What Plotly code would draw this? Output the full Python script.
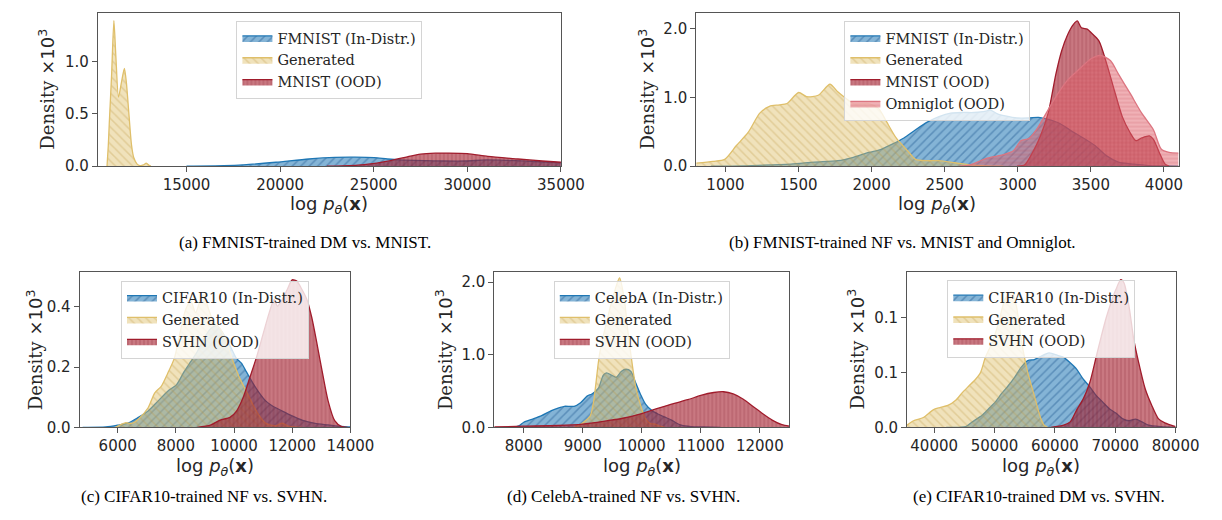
import plotly.graph_objects as go

W, H = 1222, 520

# ---------------- data ----------------
# (a) FMNIST-trained DM vs. MNIST
a_in_x = [15000, 17000, 18050, 19780, 21530, 22930, 24000, 25020, 25730, 26400, 27750, 28700, 29900, 31000, 32200, 33600, 35000]
a_in_y = [0, 0.005, 0.013, 0.038, 0.069, 0.084, 0.086, 0.082, 0.069, 0.060, 0.053, 0.050, 0.050, 0.060, 0.055, 0.045, 0.032]
a_gen_x = [10754, 10823, 10875, 11001, 11121, 11226, 11368, 11525, 11682, 11787, 11923, 12065, 12185, 12363, 12536, 12700, 12851, 13000, 13100]
a_gen_y = [0, 0.20, 0.41, 0.88, 1.39, 1.05, 0.66, 0.80, 0.934, 0.80, 0.50, 0.20, 0.08, 0.02, 0.005, 0.012, 0.03, 0.008, 0]
a_ood_x = [22500, 23300, 24500, 25900, 26800, 27500, 28300, 29000, 30000, 31100, 32700, 34000, 35000]
a_ood_y = [0, 0.003, 0.015, 0.053, 0.090, 0.115, 0.124, 0.125, 0.120, 0.094, 0.069, 0.050, 0.038]

# (b) FMNIST-trained NF vs. MNIST and Omniglot
b_in_x = [900, 1181, 1448, 1608, 1768, 1875, 1981, 2061, 2141, 2221, 2301, 2381, 2461, 2541, 2621, 2701, 2781, 2808, 2861, 2915, 2995, 3075, 3141, 3208, 3288, 3368, 3448, 3528, 3608, 3688, 3795, 3901, 4008, 4100]
b_in_y = [0, 0.01, 0.03, 0.06, 0.08, 0.13, 0.20, 0.24, 0.32, 0.41, 0.53, 0.64, 0.72, 0.77, 0.78, 0.78, 0.80, 0.82, 0.76, 0.73, 0.70, 0.70, 0.71, 0.68, 0.62, 0.51, 0.41, 0.30, 0.15, 0.06, 0.03, 0.01, 0.005, 0]
b_gen_x = [800, 915, 995, 1075, 1155, 1235, 1301, 1368, 1421, 1501, 1555, 1635, 1715, 1768, 1821, 1875, 1981, 2048, 2101, 2168, 2248, 2301, 2381, 2461, 2568, 2675, 2781, 2900]
b_gen_y = [0.045, 0.07, 0.10, 0.30, 0.49, 0.77, 0.87, 0.89, 0.91, 1.07, 1.01, 1.03, 1.19, 1.08, 0.99, 0.91, 0.91, 0.84, 0.65, 0.41, 0.22, 0.10, 0.08, 0.08, 0.05, 0.02, 0.005, 0]
b_ood1_x = [2995, 3048, 3101, 3155, 3208, 3261, 3301, 3341, 3381, 3408, 3435, 3475, 3501, 3555, 3608, 3661, 3715, 3768, 3808, 3848, 3901, 3928, 3968, 4008, 4035]
b_ood1_y = [0, 0.02, 0.20, 0.44, 0.77, 1.34, 1.68, 1.91, 2.06, 2.11, 2.01, 1.99, 1.94, 1.82, 1.49, 1.10, 0.72, 0.49, 0.37, 0.41, 0.44, 0.39, 0.20, 0.03, 0]
b_ood2_x = [2600, 2675, 2781, 2888, 2968, 3021, 3075, 3128, 3181, 3261, 3341, 3421, 3501, 3565, 3635, 3688, 3768, 3848, 3928, 3981, 4035, 4100]
b_ood2_y = [0, 0.02, 0.11, 0.16, 0.22, 0.37, 0.40, 0.53, 0.72, 1.01, 1.25, 1.41, 1.56, 1.61, 1.53, 1.34, 1.06, 0.77, 0.53, 0.25, 0.20, 0.19]

# (c) CIFAR10-trained NF vs. SVHN
c_in_x = [4796, 5584, 6000, 6371, 6709, 7046, 7384, 7721, 8025, 8284, 8509, 8734, 8959, 9184, 9409, 9634, 9859, 10084, 10253, 10421, 10646, 10871, 11096, 11321, 11659, 11996, 12334, 12784, 13234, 13684, 14000]
c_in_y = [0, 0.001, 0.007, 0.015, 0.033, 0.054, 0.087, 0.120, 0.142, 0.185, 0.218, 0.251, 0.294, 0.327, 0.338, 0.310, 0.272, 0.229, 0.213, 0.185, 0.147, 0.114, 0.087, 0.071, 0.054, 0.038, 0.024, 0.013, 0.008, 0.003, 0.001]
c_gen_x = [5921, 6259, 6484, 6709, 7046, 7271, 7496, 7721, 7946, 8171, 8340, 8509, 8678, 8846, 8959, 9127, 9296, 9521, 9746, 9971, 10196, 10421, 10646, 10871, 11096, 11434, 11659, 11884, 12334]
c_gen_y = [0, 0.015, 0.013, 0.027, 0.065, 0.114, 0.136, 0.180, 0.229, 0.327, 0.392, 0.420, 0.381, 0.425, 0.441, 0.392, 0.349, 0.327, 0.283, 0.218, 0.163, 0.120, 0.076, 0.038, 0.013, 0.005, 0.014, 0.003, 0]
c_ood_x = [8734, 9184, 9521, 9859, 10084, 10309, 10534, 10759, 10984, 11209, 11378, 11490, 11659, 11828, 11996, 12165, 12334, 12503, 12671, 12840, 13009, 13234, 13459, 13684, 13909]
c_ood_y = [0, 0.007, 0.024, 0.033, 0.054, 0.098, 0.163, 0.229, 0.305, 0.381, 0.425, 0.403, 0.425, 0.458, 0.490, 0.485, 0.458, 0.425, 0.365, 0.283, 0.196, 0.087, 0.022, 0.003, 0]

# (d) CelebA-trained NF vs. SVHN
d_in_x = [7807, 7917, 8000, 8138, 8303, 8468, 8605, 8688, 8853, 8963, 9073, 9155, 9265, 9348, 9403, 9485, 9568, 9651, 9733, 9816, 9898, 9981, 10063, 10173, 10283, 10393, 10503, 10586, 10668, 10834, 11053, 11329]
d_in_y = [0, 0.02, 0.07, 0.11, 0.16, 0.23, 0.27, 0.29, 0.29, 0.34, 0.43, 0.46, 0.54, 0.72, 0.75, 0.72, 0.69, 0.77, 0.80, 0.77, 0.61, 0.45, 0.32, 0.23, 0.18, 0.14, 0.10, 0.06, 0.03, 0.01, 0.005, 0]
d_gen_x = [8853, 8963, 9045, 9128, 9183, 9282, 9403, 9513, 9623, 9706, 9760, 9816, 9898, 9981, 10063, 10146, 10228, 10311, 10393]
d_gen_y = [0, 0.04, 0.09, 0.16, 0.35, 1.00, 1.45, 1.80, 2.06, 1.75, 1.35, 1.00, 0.55, 0.30, 0.12, 0.05, 0.045, 0.015, 0]
d_ood_x = [7500, 8000, 8578, 9000, 9403, 9678, 10000, 10228, 10503, 10778, 11000, 11219, 11384, 11549, 11714, 11879, 12044, 12209, 12374, 12500]
d_ood_y = [0.005, 0.015, 0.025, 0.045, 0.09, 0.125, 0.19, 0.25, 0.32, 0.38, 0.44, 0.48, 0.49, 0.46, 0.39, 0.29, 0.19, 0.10, 0.036, 0.015]

# (e) CIFAR10-trained DM vs. SVHN
e_in_x = [42000, 44162, 45243, 46324, 47946, 49027, 50108, 51189, 52270, 53351, 54432, 55514, 56595, 57676, 59027, 60378, 61459, 62541, 63622, 64703, 65784, 66865, 67946, 69027, 70108, 71189, 72270, 73351, 74432, 75514, 77676, 79838]
e_in_y = [0, 0, 0.0006, 0.005, 0.011, 0.017, 0.023, 0.031, 0.038, 0.046, 0.055, 0.061, 0.062, 0.065, 0.068, 0.066, 0.064, 0.059, 0.053, 0.044, 0.037, 0.029, 0.023, 0.017, 0.013, 0.008, 0.006, 0.0075, 0.005, 0.002, 0.0006, 0]
e_gen_x = [35514, 36595, 38216, 39838, 40919, 42270, 43622, 44703, 45784, 46865, 47676, 48486, 49568, 50649, 51730, 52811, 53622, 54433, 55514, 56595, 57676, 58216, 58757]
e_gen_y = [0.002, 0.006, 0.009, 0.016, 0.018, 0.020, 0.025, 0.032, 0.038, 0.044, 0.050, 0.064, 0.077, 0.095, 0.117, 0.124, 0.111, 0.080, 0.050, 0.029, 0.008, 0.002, 0]
e_ood_x = [59297, 61459, 62541, 63622, 64703, 65784, 66865, 67676, 68486, 69297, 70108, 70919, 71459, 72270, 73081, 73892, 74973, 76054, 77135, 78216, 80000]
e_ood_y = [0, 0.002, 0.005, 0.016, 0.026, 0.041, 0.065, 0.083, 0.100, 0.114, 0.126, 0.135, 0.132, 0.111, 0.080, 0.059, 0.035, 0.020, 0.008, 0.004, 0.0006]

# tick values / labels
a_xticks = [15000, 20000, 25000, 30000, 35000]
a_yticks = [0, 0.5, 1.0]
a_ylabels = ["0.0", "0.5", "1.0"]
b_xticks = [1000, 1500, 2000, 2500, 3000, 3500, 4000]
b_yticks = [0, 1.0, 2.0]
b_ylabels = ["0.0", "1.0", "2.0"]
c_xticks = [6000, 8000, 10000, 12000, 14000]
c_yticks = [0, 0.2, 0.4]
c_ylabels = ["0.0", "0.2", "0.4"]
d_xticks = [8000, 9000, 10000, 11000, 12000]
d_yticks = [0, 1.0, 2.0]
d_ylabels = ["0.0", "1.0", "2.0"]
e_xticks = [40000, 50000, 60000, 70000, 80000]
e_yticks = [0, 0.05, 0.10]
e_ylabels = ["0.0", "0.1", "0.1"]

captions = [
    "(a) FMNIST-trained DM vs. MNIST.",
    "(b) FMNIST-trained NF vs. MNIST and Omniglot.",
    "(c) CIFAR10-trained NF vs. SVHN.",
    "(d) CelebA-trained NF vs. SVHN.",
    "(e) CIFAR10-trained DM vs. SVHN.",
]

# ---------------- styles ----------------
STY = {
    "in":   dict(line="#1f77b4", fill="rgba(31,119,180,0.55)", hatch="rgba(10,70,130,0.35)", shape="/", size=6),
    "gen":  dict(line="#dfbf6a", fill="rgba(222,190,105,0.45)", hatch="rgba(185,145,55,0.28)", shape="\\", size=6),
    "ood":  dict(line="#a01c2c", fill="rgba(165,30,45,0.6)", hatch="rgba(110,10,25,0.28)", shape="|", size=4),
    "ood2": dict(line="#dc7580", fill="rgba(225,100,110,0.5)", hatch="rgba(190,60,75,0.28)", shape="-", size=4),
}

# panel geometry in pixels: x0, x1, ytop, ybottom
panels = [
    dict(x=(91.7, 564), y=(4.7, 161), xr=[10267, 35000], yr=[0, 1.466]),
    dict(x=(702, 1194), y=(4.7, 161), xr=[800, 4100], yr=[0, 2.23]),
    dict(x=(73, 349.3), y=(269, 426.7), xr=[4690, 14000], yr=[0, 0.515]),
    dict(x=(496, 797), y=(269, 426.7), xr=[7500, 12500], yr=[0, 2.136]),
    dict(x=(917, 1191), y=(268.5, 426.7), xr=[35500, 80000], yr=[0, 0.1422]),
]
ylab_x = [40, 652, 27, 445, 865]
cap_pos = [(303, 239), (912, 239), (200, 497), (628, 497), (1052, 497)]
xlab_y = [200, 200, 467, 467, 467]

series = [
    [("FMNIST (In-Distr.)", a_in_x, a_in_y, "in"), ("Generated", a_gen_x, a_gen_y, "gen"), ("MNIST (OOD)", a_ood_x, a_ood_y, "ood")],
    [("FMNIST (In-Distr.)", b_in_x, b_in_y, "in"), ("Generated", b_gen_x, b_gen_y, "gen"), ("MNIST (OOD)", b_ood1_x, b_ood1_y, "ood"), ("Omniglot (OOD)", b_ood2_x, b_ood2_y, "ood2")],
    [("CIFAR10 (In-Distr.)", c_in_x, c_in_y, "in"), ("Generated", c_gen_x, c_gen_y, "gen"), ("SVHN (OOD)", c_ood_x, c_ood_y, "ood")],
    [("CelebA (In-Distr.)", d_in_x, d_in_y, "in"), ("Generated", d_gen_x, d_gen_y, "gen"), ("SVHN (OOD)", d_ood_x, d_ood_y, "ood")],
    [("CIFAR10 (In-Distr.)", e_in_x, e_in_y, "in"), ("Generated", e_gen_x, e_gen_y, "gen"), ("SVHN (OOD)", e_ood_x, e_ood_y, "ood")],
]
ticks = [
    (a_xticks, a_yticks, a_ylabels), (b_xticks, b_yticks, b_ylabels), (c_xticks, c_yticks, c_ylabels),
    (d_xticks, d_yticks, d_ylabels), (e_xticks, e_yticks, e_ylabels),
]

fig = go.Figure()
layout = dict(
    width=W, height=H, margin=dict(l=0, r=0, t=0, b=0),
    paper_bgcolor="white", plot_bgcolor="white", showlegend=True,
    font=dict(family="DejaVu Sans", color="#262626"),
)
annotations = []

def px_x(v):
    return v / W

def px_y(v):
    return 1 - v / H

for i, (p, sers, (xt, yt, ytl)) in enumerate(zip(panels, series, ticks)):
    n = "" if i == 0 else str(i + 1)
    leg = "legend" + n
    for name, xs, ys, key in sers:
        s = STY[key]
        fig.add_trace(go.Scatter(
            x=xs, y=ys, name=name, mode="lines", fill="tozeroy",
            line=dict(color=s["line"], width=1.3, shape="spline", smoothing=0.7),
            fillcolor=s["fill"],
            fillpattern=dict(shape=s["shape"], bgcolor=s["fill"], fgcolor=s["hatch"],
                             size=s["size"], solidity=0.25, fillmode="replace"),
            xaxis="x" + n, yaxis="y" + n, legend=leg, hoverinfo="skip",
        ))
    axstyle = dict(showline=True, mirror=True, linecolor="#555555", linewidth=1,
                   ticks="outside", ticklen=5, tickwidth=1, tickcolor="#555555",
                   showgrid=False, zeroline=False,
                   tickfont=dict(family="DejaVu Sans", size=15, color="#262626"))
    layout["xaxis" + n] = dict(axstyle, domain=[px_x(p["x"][0]), px_x(p["x"][1])],
                               range=p["xr"], tickvals=xt, ticktext=[str(v) for v in xt],
                               anchor="y" + n)
    layout["yaxis" + n] = dict(axstyle, domain=[px_y(p["y"][1]), px_y(p["y"][0])],
                               range=p["yr"], tickvals=yt, ticktext=ytl, anchor="x" + n)
    cx = (p["x"][0] + p["x"][1]) / 2
    cy = (p["y"][0] + p["y"][1]) / 2
    layout[leg] = dict(
        x=px_x(cx), y=px_y(p["y"][0] + 8.5), xanchor="center", yanchor="top",
        bgcolor="rgba(255,255,255,0.8)", bordercolor="#d4d4d4", borderwidth=1,
        font=dict(family="DejaVu Serif", size=14.5, color="#262626"),
        tracegroupgap=0, itemwidth=30,
    )
    annotations.append(dict(
        text='<span style="font-family:DejaVu Serif">Density</span> ×10<sup>3</sup>',
        x=px_x(ylab_x[i]), y=px_y(cy), xref="paper", yref="paper", textangle=-90,
        showarrow=False, xanchor="center", yanchor="middle",
        font=dict(family="DejaVu Sans", size=18, color="#262626"),
    ))
    annotations.append(dict(
        text="log <i>p</i><sub><i>θ</i></sub>(<b>x</b>)",
        x=px_x(cx), y=px_y(xlab_y[i]), xref="paper", yref="paper",
        showarrow=False, xanchor="center", yanchor="middle",
        font=dict(family="DejaVu Sans", size=18, color="#262626"),
    ))
    annotations.append(dict(
        text=captions[i], x=px_x(cap_pos[i][0]), y=px_y(cap_pos[i][1]),
        xref="paper", yref="paper", showarrow=False, xanchor="center", yanchor="middle",
        font=dict(family="Liberation Serif", size=17, color="black"),
    ))

layout["annotations"] = annotations
fig.update_layout(**layout)
fig.write_html("out.html")
